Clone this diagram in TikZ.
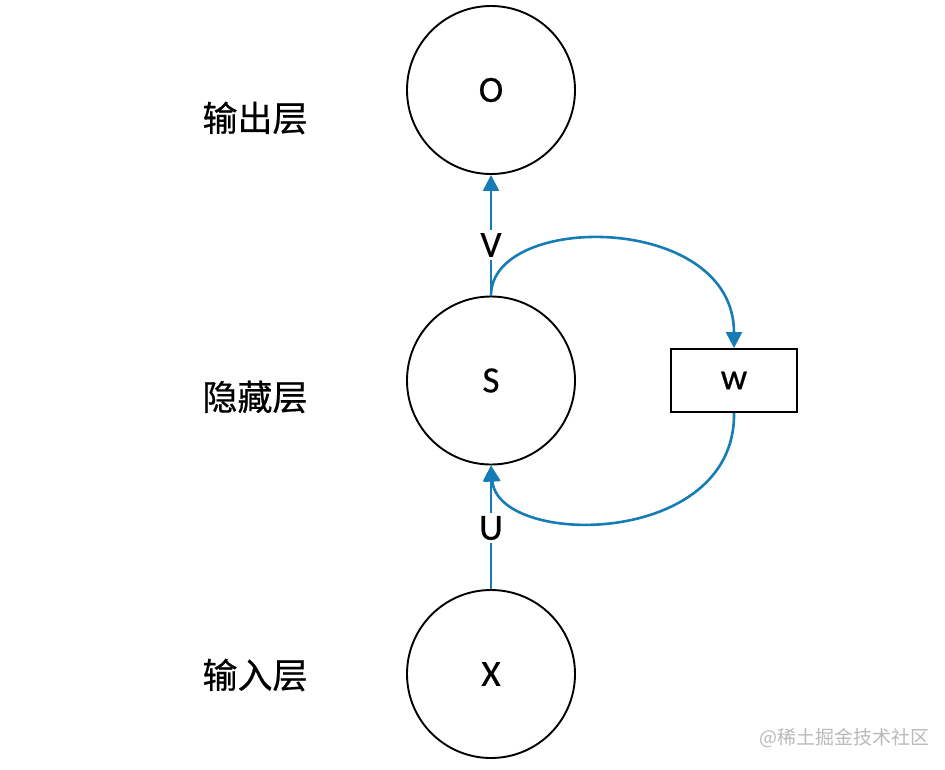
\documentclass[tikz,border=0pt]{standalone}
\usepackage{fontspec}
\setmainfont{Carlito}[FakeBold=0.5]
\newfontfamily\cjk{Noto Sans CJK SC}[FakeBold=0.6]
\newfontfamily\wmfont{Noto Sans CJK SC}
\usetikzlibrary{arrows.meta}
\definecolor{rnnblue}{RGB}{22,124,182}
\definecolor{wmgray}{RGB}{185,185,185}
\tikzset{
  neuron/.style={draw=black, line width=1.9pt, circle, minimum size=168pt, inner sep=0pt, font=\fontsize{37}{40}\selectfont},
  wbox/.style={draw=black, line width=1.9pt, minimum width=126pt, minimum height=63pt, inner sep=0pt, font=\fontsize{37}{40}\selectfont},
  layerlabel/.style={font=\cjk\fontsize{35}{40}\selectfont},
  weightlabel/.style={inner sep=3pt, font=\fontsize{37}{40}\selectfont},
  conn/.style={draw=rnnblue, line width=2.6pt},
  tip/.style={-{Triangle[length=16pt,width=16pt]}},
}
\begin{document}
\begin{tikzpicture}[x=1pt,y=-1pt]
\useasboundingbox (0,0) rectangle (945,769);
\node[neuron] (O) at (491,90) {O};
\node[neuron] (S) at (491,380.5) {S};
\node[neuron] (X) at (491,674) {X};
\node[wbox] (W) at (734,380.5) {w};
\node[layerlabel] (lo) at (255,118) {输出层};
\node[layerlabel] (lh) at (255,397) {隐藏层};
\node[layerlabel] (li) at (255,675) {输入层};
\node[weightlabel] (V) at (491,245) {V};
\node[weightlabel] (U) at (491,528) {U};
\draw[conn] (S.north) -- (V.south);
\draw[conn,tip] (V.north) -- (O.south);
\draw[conn] (X.north) -- (U.south);
\draw[conn,tip] (U.north) -- (S.south);
\draw[conn,tip] (S.north) .. controls (491,212) and (734,212) .. (W.north);
\draw[conn,tip] (W.south) .. controls (736,548) and (498,548) .. (S.south);
\node[font=\wmfont\fontsize{19}{22}\selectfont, text=wmgray, anchor=east] (wm) at (933,738) {@稀土掘金技术社区};
\end{tikzpicture}
\end{document}
